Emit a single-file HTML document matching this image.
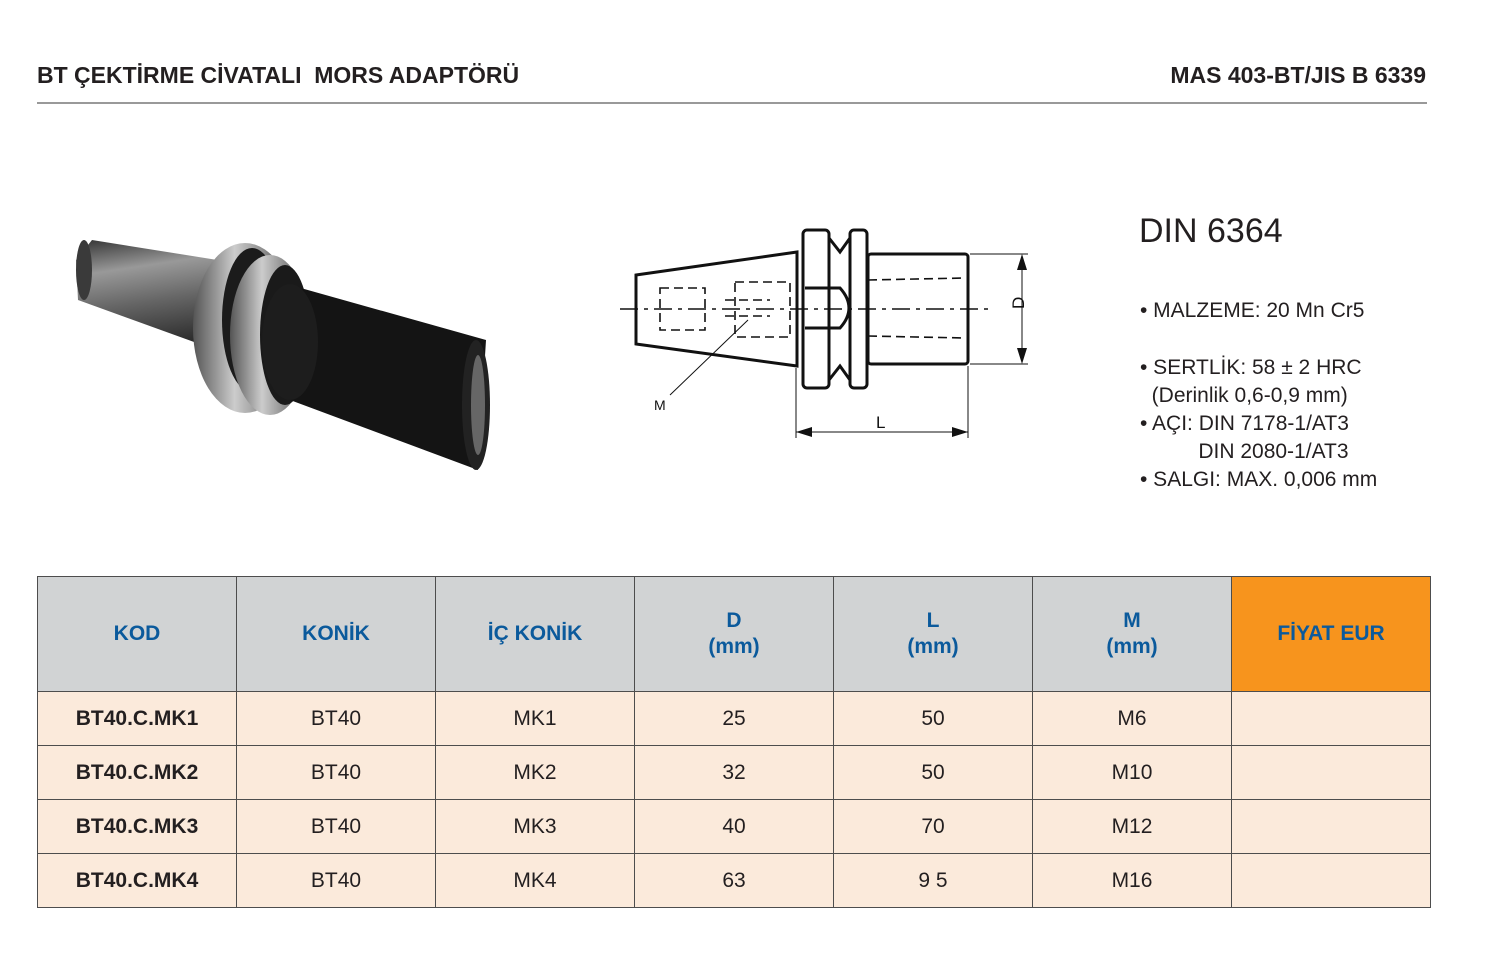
<!DOCTYPE html>
<html><head><meta charset="utf-8"><style>
body{margin:0;width:1490px;height:960px;background:#fff;position:relative;font-family:"Liberation Sans",sans-serif;overflow:hidden}
.t{position:absolute;font-weight:bold;font-size:23px;color:#231f20;top:62px}
table{position:absolute;left:37px;top:576px;border-collapse:collapse;table-layout:fixed}
td{border:1.5px solid #4d4d4d;text-align:center;width:198px;padding:0;font-size:21px;color:#231f20}
tr.h td{background:#d1d3d4;height:114px;color:#0b5a9c;font-weight:bold;font-size:21px;line-height:26px}
tr.r td{background:#fbeadb;height:53px}
.spec{position:absolute;left:1140px;font-size:21px;color:#231f20;line-height:28px}
</style></head><body>
<div class="t" style="left:37px">BT ÇEKTİRME CİVATALI&nbsp; MORS ADAPTÖRÜ</div>
<div class="t" style="right:64px">MAS 403-BT/JIS B 6339</div>
<div style="position:absolute;left:37px;top:102px;width:1390px;height:2px;background:#999"></div>

<svg style="position:absolute;left:0;top:0" width="560" height="520">
<defs>
<linearGradient id="g" x1="0" y1="0" x2="0.2" y2="1"><stop offset="0" stop-color="#333"/><stop offset=".3" stop-color="#999"/><stop offset=".6" stop-color="#666"/><stop offset="1" stop-color="#2a2a2a"/></linearGradient>
<linearGradient id="r" x1="0" y1="0" x2="1" y2="0"><stop offset="0" stop-color="#555"/><stop offset=".4" stop-color="#ccc"/><stop offset="1" stop-color="#444"/></linearGradient>
</defs>
<polygon points="92,240 230,262 230,355 78,300 76,260" fill="url(#g)"/>
<ellipse cx="84" cy="270" rx="8" ry="30" fill="#3a3a3a"/>
<ellipse cx="245" cy="328" rx="52" ry="85" fill="url(#r)"/>
<ellipse cx="252" cy="320" rx="30" ry="72" fill="#1b1b1b"/>
<ellipse cx="270" cy="335" rx="40" ry="80" fill="url(#r)"/>
<ellipse cx="285" cy="335" rx="25" ry="70" fill="#1a1a1a"/>
<polygon points="290,285 486,340 478,470 290,400" fill="#141414"/>
<ellipse cx="290" cy="342" rx="28" ry="58" fill="#1d1d1d"/>
<ellipse cx="476" cy="405" rx="14" ry="65" fill="#222"/>
<ellipse cx="478" cy="405" rx="7" ry="50" fill="#666"/>
</svg>

<svg style="position:absolute;left:600px;top:200px" width="450" height="260" fill="none" stroke="#111">
<g stroke-width="3">
<polygon points="36,75 197,52 197,166 36,144"/>
<rect x="203" y="30" width="26" height="158" rx="4"/>
<rect x="250" y="30" width="17" height="158" rx="4"/>
<path d="M229,38 L240,52 L250,38 M229,180 L240,166 L250,180"/>
<rect x="268" y="54" width="100" height="110" rx="3"/>
<path d="M205,88 L240,88 Q258,108 240,128 L205,128"/>
</g>
<g stroke-width="1.6" stroke-dasharray="9,5">
<line x1="268" y1="80" x2="365" y2="78"/><line x1="268" y1="136" x2="365" y2="138"/>
<rect x="135" y="82" width="55" height="55"/><rect x="60" y="88" width="45" height="42"/>
<line x1="125" y1="100" x2="170" y2="100"/><line x1="125" y1="116" x2="170" y2="116"/>
</g>
<line x1="20" y1="109" x2="388" y2="109" stroke-width="1.4" stroke-dasharray="18,6,4,6"/>
<g stroke-width="1">
<line x1="370" y1="54" x2="428" y2="54"/><line x1="370" y1="164" x2="428" y2="164"/>
<line x1="422" y1="56" x2="422" y2="162"/>
<line x1="196" y1="168" x2="196" y2="238"/><line x1="368" y1="166" x2="368" y2="238"/>
<line x1="196" y1="232" x2="368" y2="232"/>
<line x1="148" y1="120" x2="70" y2="195"/>
</g>
<g fill="#111" stroke="none">
<polygon points="422,54 417,70 427,70"/><polygon points="422,164 417,148 427,148"/>
<polygon points="196,232 212,227 212,237"/><polygon points="368,232 352,227 352,237"/>
<text x="276" y="228" font-size="17" font-family="Liberation Sans">L</text>
<text x="54" y="210" font-size="14" font-family="Liberation Sans">M</text>
<text x="418" y="115" font-size="17" font-family="Liberation Sans" transform="rotate(-90 418 109)">D</text>
</g>
</svg>

<div style="position:absolute;left:1139px;top:212px;font-size:34px;color:#231f20">DIN 6364</div>
<div class="spec" style="top:297px">• MALZEME: 20 Mn Cr5</div>
<div class="spec" style="top:354px">• SERTLİK: 58 ± 2 HRC<br>&nbsp;&nbsp;(Derinlik 0,6-0,9 mm)<br>• AÇI: DIN 7178-1/AT3<br>&nbsp;&nbsp;&nbsp;&nbsp;&nbsp;&nbsp;&nbsp;&nbsp;&nbsp;&nbsp;DIN 2080-1/AT3<br>• SALGI: MAX. 0,006 mm</div>

<table>
<tr class="h"><td>KOD</td><td>KONİK</td><td>İÇ KONİK</td><td>D<br>(mm)</td><td>L<br>(mm)</td><td>M<br>(mm)</td><td style="background:#f7941d">FİYAT EUR</td></tr>
<tr class="r"><td><b>BT40.C.MK1</b></td><td>BT40</td><td>MK1</td><td>25</td><td>50</td><td>M6</td><td></td></tr>
<tr class="r"><td><b>BT40.C.MK2</b></td><td>BT40</td><td>MK2</td><td>32</td><td>50</td><td>M10</td><td></td></tr>
<tr class="r"><td><b>BT40.C.MK3</b></td><td>BT40</td><td>MK3</td><td>40</td><td>70</td><td>M12</td><td></td></tr>
<tr class="r"><td><b>BT40.C.MK4</b></td><td>BT40</td><td>MK4</td><td>63</td><td>9 5</td><td>M16</td><td></td></tr>
</table>
</body></html>
